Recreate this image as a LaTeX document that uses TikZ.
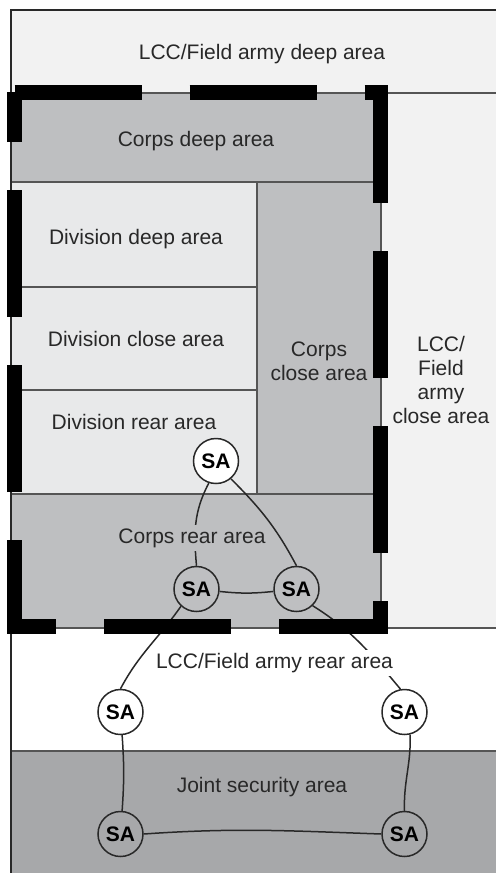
\documentclass[tikz,border=0pt]{standalone}
\usepackage{fontspec}
\setmainfont{Liberation Sans}
\usepackage{xcolor}
\usepackage{tikz}
\definecolor{lccgray}{RGB}{242,242,242}
\definecolor{corpsgray}{RGB}{190,191,193}
\definecolor{divgray}{RGB}{232,233,234}
\definecolor{jointgray}{RGB}{167,168,170}
\definecolor{edgegray}{RGB}{85,85,85}
\definecolor{inkgray}{RGB}{40,40,40}
\tikzset{
  zone/.style={draw=edgegray, line width=0.75pt},
  lcc/.style={zone, fill=lccgray},
  corps/.style={zone, fill=corpsgray},
  div/.style={zone, fill=divgray},
  joint/.style={zone, fill=jointgray},
  lbl/.style={font=\fontsize{10.5}{12}\selectfont, text=inkgray,
    align=center, inner sep=1.5pt},
  sa/.style={circle, draw=inkgray, line width=0.75pt, minimum size=22.5pt,
    inner sep=0pt, font=\fontsize{10.5}{12}\selectfont\bfseries},
  link/.style={draw=inkgray, line width=0.75pt},
  corpsline/.style={line width=7.5pt, dash pattern=on 63.5pt off 24pt},
}
\begin{document}
\begin{tikzpicture}[x=0.5pt, y=-0.5pt]
\useasboundingbox (0,0) rectangle (496,873);
\clip (0,0) rectangle (496,873);
% areas
\draw[lcc] (11,10) rectangle (510,93);
\draw[lcc] (381,93) rectangle (510,628);
\draw[corps] (11,93) rectangle (381,182);
\draw[corps] (257,182) rectangle (381,494);
\draw[div] (11,182) rectangle (257,287);
\draw[div] (11,287) rectangle (257,390);
\draw[div] (11,390) rectangle (257,494);
\draw[corps] (11,494) rectangle (381,628);
\draw[zone, fill=white] (11,628) rectangle (510,751);
\draw[joint] (11,751) rectangle (510,890);
\draw[draw=inkgray, line width=1pt] (11,890) -- (11,10) -- (510,10);
\node[lbl] (ldeep) at (262,54) {LCC/Field army deep area};
\node[lbl] (cdeep) at (196,141) {Corps deep area};
\node[lbl] (ddeep) at (136,239) {Division deep area};
\node[lbl] (dclose) at (136,339) {Division close area};
\node[lbl] (drear) at (134,422) {Division rear area};
\node[lbl] (cclose) at (319,361) {Corps\\close area};
\node[lbl] (lclose) at (441,380) {LCC/\\Field\\army\\close area};
\node[lbl] (jsa) at (262,787) {Joint security area};
% support areas
\node[sa, fill=white] (sa1) at (216,461) {SA};
\node[sa] (sa2) at (196.5,589) {SA};
\node[sa] (sa3) at (296.5,589) {SA};
\node[sa] (sa4) at (120.5,712) {SA};
\node[sa] (sa5) at (404.5,712) {SA};
\node[sa] (sa6) at (120.5,834) {SA};
\node[sa] (sa7) at (404.5,834) {SA};
\draw[link] (sa1.-108) to[out=-118,in=95] (sa2.north);
\draw[link] (sa1.-50) to[out=-45,in=118] (sa3.north);
\draw[link] (sa2) to[bend right=6] (sa3);
\draw[link] (sa2.-132) to[out=-125,in=62] (sa4.north);
\draw[link] (sa3.-46) to[out=-32,in=130] (sa5.100);
\draw[link] (sa4) to[bend left=4] (sa6);
\draw[link] (sa5.-76) to[out=-88,in=92] (sa7.north);
\draw[link] (sa6.east) to[out=4,in=178] (sa7.west);
\node[lbl, fill=corpsgray] (crear) at (192,538) {Corps rear area};
\node[lbl, fill=white] (lrear) at (274.5,663) {LCC/Field army rear area};
% corps boundary
\draw[corpsline] (14.5,92) -- (380.5,92) -- (380.5,626) -- (14.5,626) -- (14.5,92);
\end{tikzpicture}
\end{document}
